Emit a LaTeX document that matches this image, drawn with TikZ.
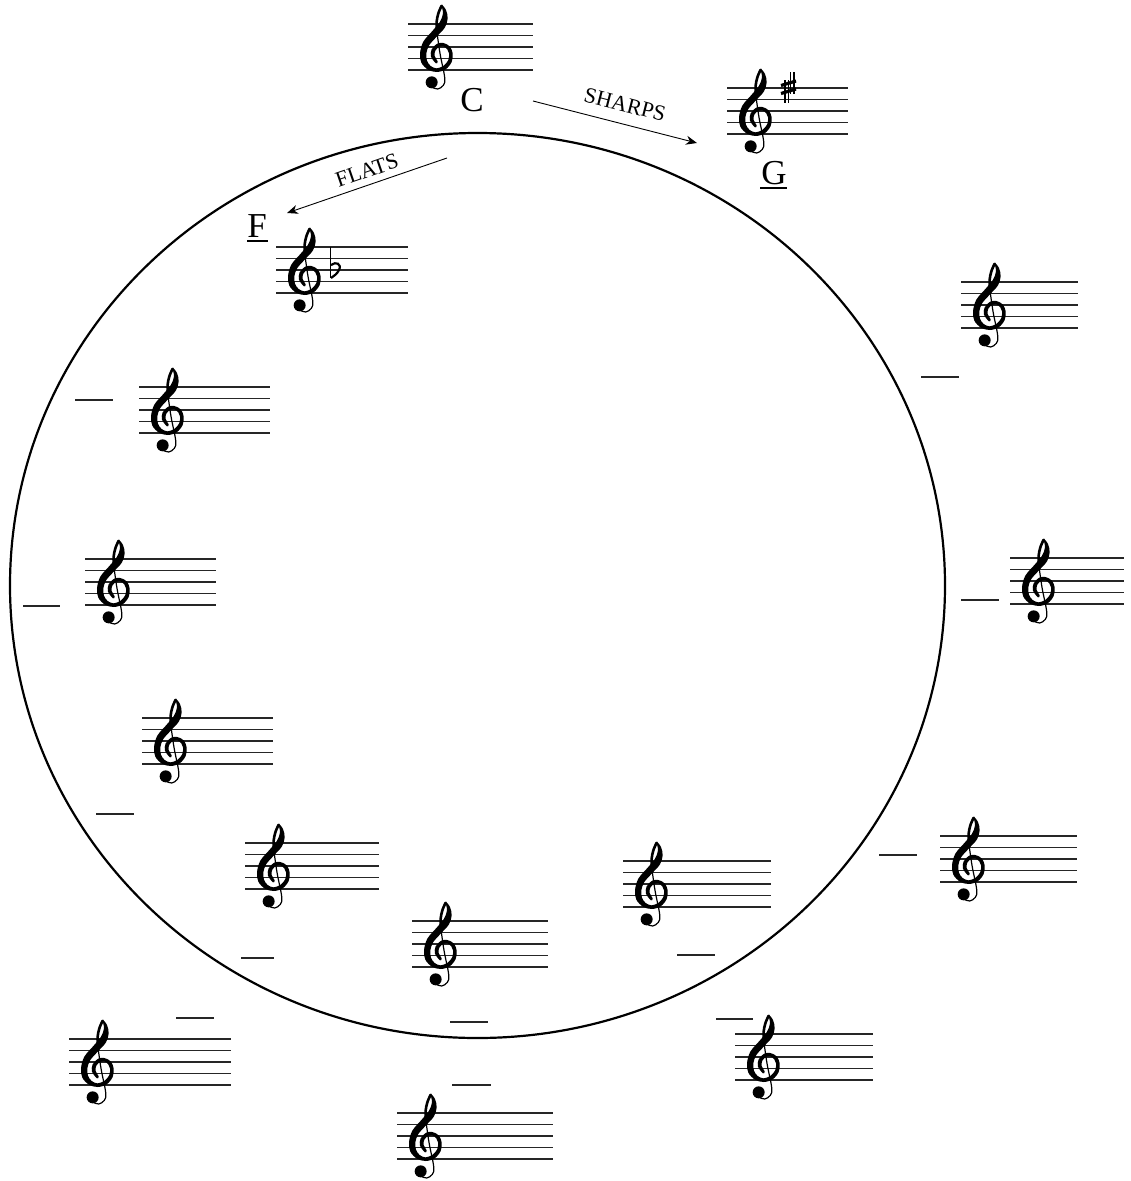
\documentclass[tikz,border=0pt]{standalone}
\usepackage{fontspec}
\setmainfont{Liberation Serif}
\usetikzlibrary{arrows.meta}
\tikzset{
  staffline/.style={line width=1.2pt,black!85},
  clefstem/.style={line width=1.2pt,black,line cap=round},
  blank/.style={line width=1.2pt,black!85},
  keyletter/.style={font=\fontsize{35}{35}\selectfont,inner sep=0pt},
  dirlabel/.style={font=\fontsize{22}{22}\selectfont,inner sep=0pt},
  dirarrow/.style={line width=0.9pt,-{Stealth[length=11pt,width=9pt]}},
  accid/.style={line width=1.3pt,black},
  accidbar/.style={line width=3.2pt,black}
}
% #1 = left end, #2 = y of top line, #3 = right end
\newcommand{\staffat}[3]{%
  \foreach \k in {0,11.5,23,34.5,46}{\draw[staffline] (#1,#2+\k) -- (#3,#2+\k);}
  \begin{scope}[shift={(#1,#2)}]
    \begin{scope}[x=0.3333pt,y=-0.3333pt,shift={(-24,-72)}]
      \fill[black] plot[smooth cycle,tension=0.55] coordinates {
        (125,15)(129,40)(120,65)(98,92)(70,125)(60,160)(64,188)(84,209)(110,216)
        (137,208)(155,186)(158,160)(149,139)(130,129)(112,131)(95,148)(93,170)(108,190)
        (113,184)(104,168)(106,152)(118,140)(130,139)(142,148)(147,160)(145,180)(131,197)
        (110,205)(92,198)(81,182)(79,160)(88,135)(112,108)(135,82)(143,55)(138,30)};
      \draw[line width=2.6pt,line cap=round] plot[smooth,tension=0.6] coordinates {(125,17)(115,40)(110,65)(110,90)};
      \draw[clefstem] plot[smooth,tension=0.6] coordinates {(110,90)(120,160)(134,232)(130,256)(113,267)(97,262)};
      \fill (95,247) circle[radius=18];
    \end{scope}
  \end{scope}}
\begin{document}
\begin{tikzpicture}[x=1pt,y=-1pt]
\useasboundingbox[fill=white] (0,0) rectangle (1131,1181);

\draw[line width=2.2pt] (477.5,585.5) ellipse[x radius=467.5,y radius=452.5];

\staffat{408}{24}{533}
\staffat{727}{88}{848}
\staffat{276}{247}{408}
\staffat{961}{282}{1078}
\staffat{139}{387}{270}
\staffat{1010}{558}{1124}
\staffat{85}{559}{216}
\staffat{142}{718}{273}
\staffat{940}{836}{1077}
\staffat{245}{843}{379}
\staffat{623}{861}{771}
\staffat{412}{921}{548}
\staffat{735}{1034}{873}
\staffat{69}{1039}{231}
\staffat{397}{1113}{553}

% key signature of G: two sharps as printed
\draw[accid] (785,80) -- (785,103) (788.5,80) -- (788.5,103);
\draw[accid] (790.5,72) -- (790.5,94) (794,72) -- (794,94);
\draw[accidbar] (781,85.5) -- (796,81) (781,93.5) -- (796,89);
% key signature of F: one flat
\draw[accid,line width=1.6pt] (330.5,247) -- (330.5,278);
\draw[accid,line width=2.2pt] (331,265) .. controls (336,261) and (342,264) .. (339,270) .. controls (337,274) and (334,276) .. (331,278);

% letters
\node[keyletter] (keyC) at (472,100) {C};
\node[keyletter] (keyG) at (774,173) {G};
\node[keyletter] (keyF) at (257,226) {F};
\draw[line width=1.3pt] (760,188) -- (787,188);
\draw[line width=1.3pt] (247,241) -- (268,241);

% direction labels and arrows
\node[dirlabel,rotate=-14.4] (sharps) at (625,104.5) {SHARPS};
\node[dirlabel,rotate=19] (flats) at (367,170.5) {FLATS};
\coordinate (sharpstart) at (533,101);
\coordinate (sharpend) at (697,143);
\coordinate (flatstart) at (447,158);
\coordinate (flatend) at (287,213);
\draw[dirarrow] (sharpstart) -- (sharpend);
\draw[dirarrow] (flatstart) -- (flatend);

% blanks
\draw[blank] (921,377) -- (959,377);
\draw[blank] (75,400) -- (113,400);
\draw[blank] (961,600) -- (999,600);
\draw[blank] (23,606) -- (60,606);
\draw[blank] (96,814) -- (134,814);
\draw[blank] (879,855) -- (917,855);
\draw[blank] (241,958) -- (274,958);
\draw[blank] (677,955) -- (715,955);
\draw[blank] (450,1022) -- (488,1022);
\draw[blank] (716,1019) -- (753,1019);
\draw[blank] (176,1018) -- (214,1018);
\draw[blank] (452,1085) -- (491,1085);
\end{tikzpicture}
\end{document}
